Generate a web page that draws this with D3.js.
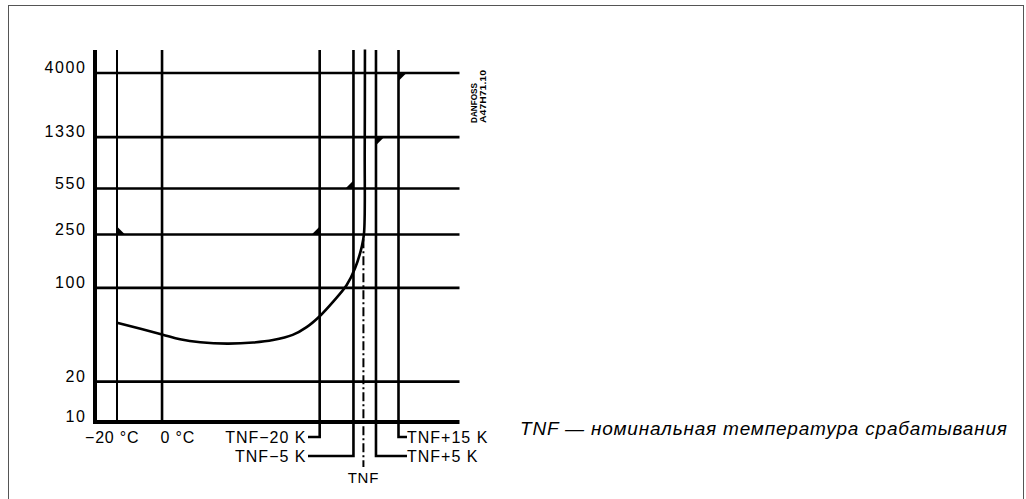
<!DOCTYPE html>
<html>
<head>
<meta charset="utf-8">
<script src="https://cdn.jsdelivr.net/npm/d3@7"></script>
<style>
  body { margin: 0; background: #fff; }
  text { font-family: "Liberation Sans", Arial, sans-serif; fill: #000; }
</style>
</head>
<body>
<svg id="chart" width="1026" height="499"></svg>
<script>
// y ticks (trip time scale, logarithmic)
var yTicks = [10, 20, 100, 250, 550, 1330, 4000];
// nominal trip temperature used to place the TNF lines
var tnf = 90;
var celsiusLines = [-20, 0];
var celsiusLabels = ["\u221220 \u00b0C", "0 \u00b0C"];
var tnfOffsets = [-20, -5, 5, 15];
var tnfLabels = ["TNF\u221220 K", "TNF\u22125 K", "TNF+5 K", "TNF+15 K"];
// curve
var curveTemp = [-20, 0, 8, 17, 29, 40.5, 49.3, 58, 64.2, 70, 76, 82, 85.7, 88.7, 89.7, 90, 90.1];
var curveValue = [55, 45, 41.4, 39.3, 38.4, 39.1, 40.8, 44.6, 51, 61.5, 79, 105, 140, 203, 256, 1070, 6000];
// tolerance flags: temperature, value, quadrant
var flagTemp = [-20, tnf - 20, tnf - 5, tnf + 5, tnf + 15];
var flagValue = [250, 250, 550, 1330, 4000];
var flagDir = ["ur", "ul", "ul", "dr", "dr"];
var note = "TNF \u2014 \u043d\u043e\u043c\u0438\u043d\u0430\u043b\u044c\u043d\u0430\u044f \u0442\u0435\u043c\u043f\u0435\u0440\u0430\u0442\u0443\u0440\u0430 \u0441\u0440\u0430\u0431\u0430\u0442\u044b\u0432\u0430\u043d\u0438\u044f";

(function() {
var svg = d3.select("#chart");

var left = 95, right = 459.5, plotTop = 50, bottom = 422;

var x = d3.scaleLinear().domain([-20, tnf + 15]).range([117, 398.5]);
var y = d3.scaleLog().domain([10, 4000]).range([bottom, 73]);

// frame
svg.append("rect")
    .attr("x", 8.5).attr("y", 5.5)
    .attr("width", 1015).attr("height", 500)
    .attr("fill", "none").attr("stroke", "#555").attr("stroke-width", 1);

// horizontal gridlines
svg.append("g").selectAll("line").data(yTicks.slice(1)).enter()
    .append("line")
    .attr("x1", left).attr("x2", right)
    .attr("y1", function(d) { return y(d); })
    .attr("y2", function(d) { return y(d); })
    .attr("stroke", "#000").attr("stroke-width", 2.6);

// y labels
svg.append("g").selectAll("text").data(yTicks).enter()
    .append("text")
    .attr("x", 86.5).attr("y", function(d) { return y(d); })
    .attr("text-anchor", "end")
    .style("font-size", "16px").style("letter-spacing", "1.6px")
    .text(function(d) { return d; });

// celsius verticals
svg.append("g").selectAll("line").data(celsiusLines).enter()
    .append("line")
    .attr("x1", function(d) { return x(d); }).attr("x2", function(d) { return x(d); })
    .attr("y1", plotTop).attr("y2", bottom)
    .attr("stroke", "#000").attr("stroke-width", function(d, i) { return i == 0 ? 2 : 2.6; });

svg.append("g").selectAll("text").data(celsiusLines).enter()
    .append("text")
    .attr("x", function(d, i) { return i == 0 ? x(d) - 32 : x(d) - 1.5; })
    .attr("y", 443)
    .style("font-size", "16px").style("letter-spacing", "0.8px")
    .text(function(d, i) { return celsiusLabels[i]; });

// TNF verticals with leaders
var rowY = function(d) { return Math.abs(d) >= 15 ? 437 : 456; };
var tnfG = svg.append("g");
tnfG.selectAll("path").data(tnfOffsets).enter()
    .append("path")
    .attr("d", function(d) {
        var px = x(tnf + d), ly = rowY(d), lx = d < 0 ? 308 : 407;
        return "M" + px + "," + plotTop + "V" + ly + "H" + lx;
    })
    .attr("fill", "none").attr("stroke", "#000").attr("stroke-width", 2.6);

tnfG.selectAll("text").data(tnfOffsets).enter()
    .append("text")
    .attr("x", function(d) { return d < 0 ? 306.5 : 407; })
    .attr("y", function(d) { return rowY(d) + 6; })
    .attr("text-anchor", function(d) { return d < 0 ? "end" : "start"; })
    .style("font-size", "16px").style("letter-spacing", "1px")
    .text(function(d, i) { return tnfLabels[i]; });

// TNF dash-dot line
svg.append("line")
    .attr("x1", x(tnf) - 1.3).attr("x2", x(tnf) - 1.3)
    .attr("y1", y(230)).attr("y2", 467)
    .attr("stroke", "#000").attr("stroke-width", 2)
    .attr("stroke-dasharray", "9,3,2,3");

svg.append("text")
    .attr("x", x(tnf) - 1.3).attr("y", 483)
    .attr("text-anchor", "middle")
    .style("font-size", "15px").style("letter-spacing", "0.8px")
    .text("TNF");

// flags
var fs = 8;
svg.append("g").selectAll("path").data(flagTemp).enter()
    .append("path")
    .attr("d", function(d, i) {
        var px = x(d), py = y(flagValue[i]);
        var sx = flagDir[i].indexOf("r") >= 0 ? 1 : -1;
        var sy = flagDir[i].indexOf("u") >= 0 ? -1 : 1;
        return "M" + px + "," + py + "L" + (px + sx * fs) + "," + py + "L" + px + "," + (py + sy * fs) + "Z";
    })
    .attr("fill", "#000");

// curve
var line = d3.line()
    .x(function(d, i) { return x(curveTemp[i]); })
    .y(function(d) { return y(d); })
    .curve(d3.curveCatmullRom.alpha(0.5));

svg.append("path")
    .datum(curveValue)
    .attr("d", line)
    .attr("fill", "none").attr("stroke", "#000").attr("stroke-width", 2.6);

// axes
svg.append("line")
    .attr("x1", left).attr("x2", left).attr("y1", plotTop).attr("y2", bottom + 2)
    .attr("stroke", "#000").attr("stroke-width", 4);
svg.append("line")
    .attr("x1", left - 2).attr("x2", right).attr("y1", bottom).attr("y2", bottom)
    .attr("stroke", "#000").attr("stroke-width", 4);

// drawing reference
var ref = svg.append("text")
    .attr("transform", "translate(477,123) rotate(-90)")
    .style("font-size", "9.5px").style("font-weight", "bold");
ref.append("tspan").attr("x", 0).attr("dy", 0).attr("textLength", 40).attr("lengthAdjust", "spacingAndGlyphs").text("DANFOSS");
ref.append("tspan").attr("x", 0).attr("dy", 8.5).attr("textLength", 53).attr("lengthAdjust", "spacingAndGlyphs").text("A47H71.10");

// note
svg.append("text")
    .attr("x", 520).attr("y", 435)
    .attr("textLength", 487).attr("lengthAdjust", "spacing")
    .style("font-size", "19px").style("font-style", "italic")
    .text(note);
})();
</script>
</body>
</html>
